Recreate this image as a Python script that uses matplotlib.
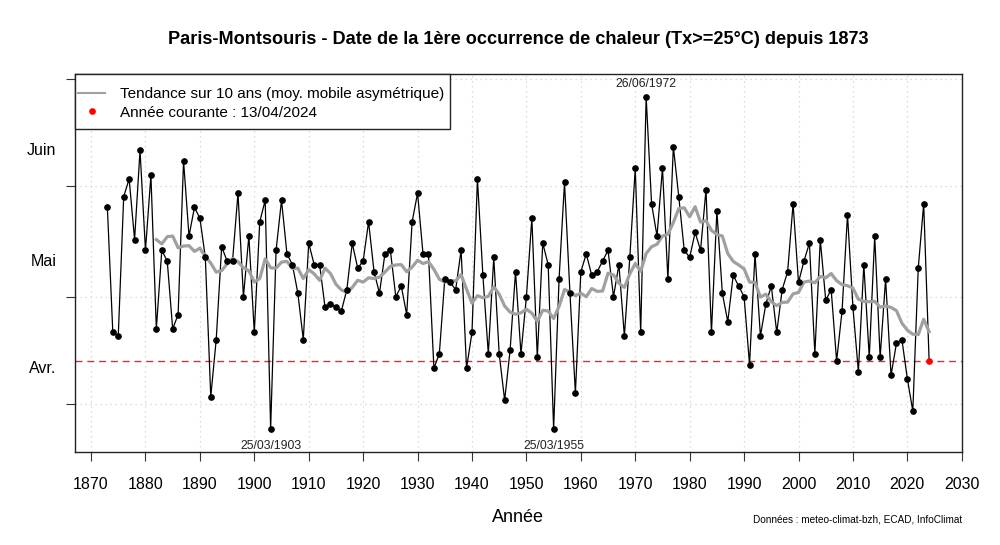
import matplotlib
matplotlib.use("Agg")
import matplotlib.pyplot as plt
from matplotlib.lines import Line2D
from matplotlib.patches import Rectangle
import pandas as pd

plt.rcParams['font.family'] = ['Liberation Sans', 'DejaVu Sans']

# Day of year (non-leap calendar) of the first day with Tx >= 25°C
years = list(range(1873, 2025))
first_day = (
    [146, 111, 110, 149, 154, 137, 162]                              # 1873-1879
    + [134, 155, 112, 134, 131, 112, 116, 159, 138, 146]             # 1880s
    + [143, 132, 93, 109, 135, 131, 131, 150, 121, 138]              # 1890s
    + [111, 142, 148, 84, 134, 148, 133, 130, 122, 109]              # 1900s
    + [136, 130, 130, 118, 119, 118, 117, 123, 136, 129]             # 1910s
    + [131, 142, 128, 122, 133, 134, 121, 124, 116, 142]             # 1920s
    + [150, 133, 133, 101, 105, 126, 125, 123, 134, 101]             # 1930s
    + [111, 154, 127, 105, 132, 105, 92, 106, 128, 105]              # 1940s
    + [121, 143, 104, 136, 130, 84, 126, 153, 122, 94]               # 1950s
    + [128, 133, 127, 128, 131, 134, 121, 130, 110, 132]             # 1960s
    + [157, 111, 177, 147, 138, 157, 126, 163, 149, 134]             # 1970s
    + [132, 139, 134, 151, 111, 145, 122, 114, 127, 124]             # 1980s
    + [121, 102, 133, 110, 119, 124, 111, 123, 128, 147]             # 1990s
    + [125, 131, 136, 105, 137, 120, 123, 103, 117, 144]             # 2000s
    + [118, 100, 130, 104, 138, 104, 126, 99, 108, 109]              # 2010s
    + [98, 89, 129, 147, 103]                                        # 2020s
)
current_year = 2024
current_day = 103  # 13/04

month_label_days = [101.3, 131.3, 162.3]
month_labels = ["Avr.", "Mai", "Juin"]
month_start_days = [91, 121, 152, 182]  # 1 avr, 1 mai, 1 juin, 1 juil
x_ticks = list(range(1870, 2031, 10))

annotations = [(1903, 84, "25/03/1903", "below"),
               (1955, 84, "25/03/1955", "below"),
               (1972, 177, "26/06/1972", "above")]

s = pd.Series(first_day, index=years)
trend = s.rolling(10).mean().dropna()

fig = plt.figure(figsize=(10, 5.45), dpi=100)
ax = fig.add_axes([0.0745, 0.1712, 0.962 - 0.0745, 0.8637 - 0.1712])

ax.set_xlim(1866.96, 2030.04)
ax.set_ylim(77.6, 183.3)

# grid
for xt in x_ticks:
    ax.axvline(xt, color='#d0d0d0', lw=0.9, ls=(0, (1, 3)), zorder=0)
for yt in month_start_days:
    ax.axhline(yt, color='#d0d0d0', lw=0.9, ls=(0, (1, 3)), zorder=0)

ax.axhline(current_day, color='#ff2020', lw=1.0, ls=(0, (5, 3.5)), zorder=1)

ax.plot(s.index, s.values, color='black', lw=0.9, zorder=2)
ax.plot(trend.index, trend.values, color='#a0a0a0', lw=2.3, zorder=3)
ax.plot(s.index[:-1], s.values[:-1], 'o', color='black', ms=3.8, zorder=4)
ax.plot([current_year], [current_day], 'o', color='red', ms=3.8, zorder=5)

for yr, d, txt, pos in annotations:
    if pos == "below":
        ax.annotate(txt, (yr, d), xytext=(0, -8), textcoords='offset points',
                    ha='center', va='top', fontsize=8.8, color='#222222')
    else:
        ax.annotate(txt, (yr, d), xytext=(0, 5), textcoords='offset points',
                    ha='center', va='bottom', fontsize=8.8, color='#222222')

ax.set_xticks(x_ticks)
ax.set_xticklabels([str(v) for v in x_ticks], fontsize=11.5)
ax.tick_params(axis='x', length=6.5, width=0.8, pad=11.5, color='#333333')

ax.set_yticks(month_label_days)
ax.set_yticklabels(month_labels, fontsize=11.5)
ax.tick_params(axis='y', which='major', length=0, pad=13)
ax.set_yticks(month_start_days, minor=True)
ax.tick_params(axis='y', which='minor', length=6.5, width=0.8, color='#333333')

for sp in ax.spines.values():
    sp.set_linewidth(1.0)
    sp.set_color('#222222')

# legend box (drawn as a rectangle so paddings match the original)
box = Rectangle((0, 1 - 0.1449), 0.4231, 0.1449, transform=ax.transAxes,
                facecolor='white', edgecolor='#222222', lw=1.0, zorder=6,
                clip_on=False)
ax.add_patch(box)

handles = [Line2D([], [], color='#a0a0a0', lw=1.5),
           Line2D([], [], color='red', marker='o', ls='none', ms=3.8)]
labels = ["Tendance sur 10 ans (moy. mobile asymétrique)",
          "Année courante : 13/04/2024"]
leg = ax.legend(handles, labels, loc='upper left', bbox_to_anchor=(0.0039, 0.9663),
                borderaxespad=0, fontsize=11, frameon=False, handlelength=1.8,
                handletextpad=0.95, labelspacing=0.3, borderpad=0)
leg.set_zorder(7)

fig.text((0.0745 + 0.962) / 2, 1 - 40 / 545,
         "Paris-Montsouris - Date de la 1ère occurrence de chaleur (Tx>=25°C) depuis 1873",
         ha='center', va='center', fontsize=13.1, fontweight='bold')
fig.text((0.0745 + 0.962) / 2, 1 - 517 / 545, "Année", ha='center', va='center',
         fontsize=13)
fig.text(0.962, 1 - 519 / 545, "Données : meteo-climat-bzh, ECAD, InfoClimat",
         ha='right', va='center', fontsize=7.2)

fig.savefig("out.png", dpi=100)
